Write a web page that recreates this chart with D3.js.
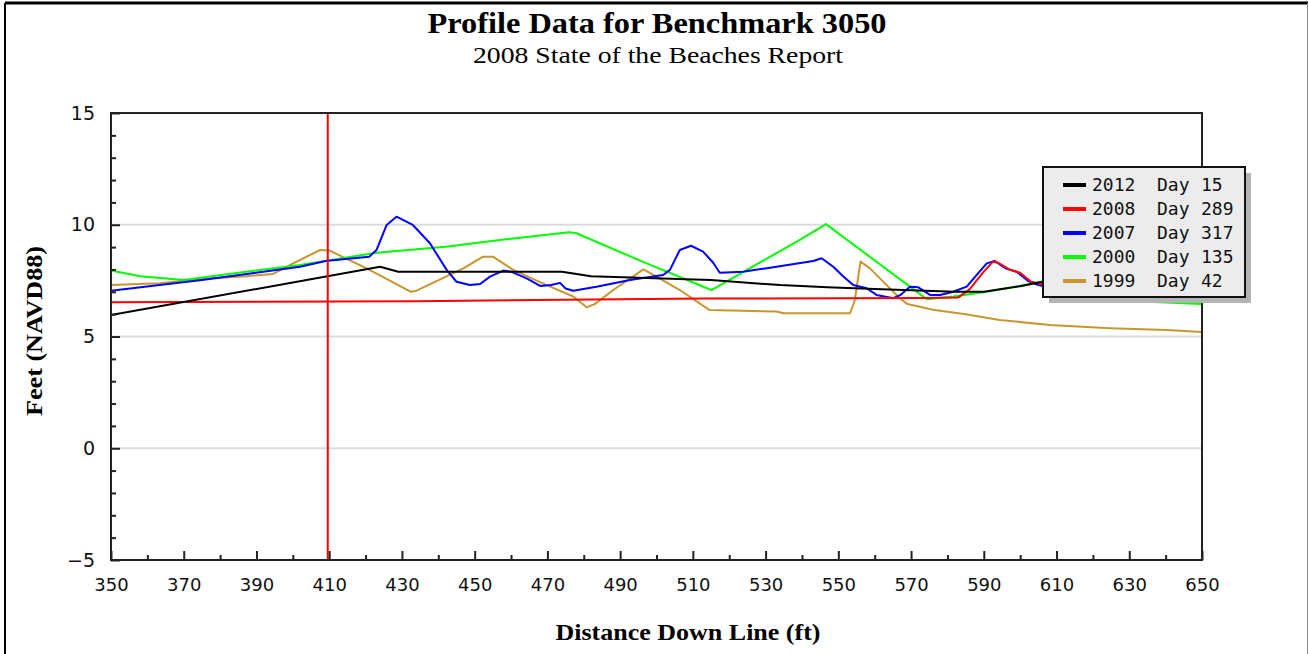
<!DOCTYPE html>
<html>
<head>
<meta charset="utf-8">
<script src="https://cdnjs.cloudflare.com/ajax/libs/d3/7.8.5/d3.min.js"></script>
<style>
  body { margin: 0; background: #fff; }
  svg { display: block; }
</style>
</head>
<body>
<svg id="chart" width="1309" height="654"></svg>
<script>
// profile data, [distance ft, elevation ft]
var s2012 = [[350,5.96],[424,8.12],[429,7.9],[474,7.9],[482,7.7],[515,7.53],[534,7.3],[547,7.2],
  [560,7.13],[582,7.0],[590,7.0],[600,7.25],[606,7.45],[612,7.4]];
var s2008 = [[350,6.53],[434,6.58],[513,6.7],[574,6.72],[583,6.75],[586,7.1],[590,7.9],[592.5,8.35],
  [594,8.3],[597,8.0],[600,7.85],[603,7.45],[607,7.3],[611,6.75],[618,6.62],[622,6.8]];
var s2007 = [[350,7.05],[375,7.53],[402,8.12],[409,8.38],[421,8.57],[423,8.87],[425.8,9.99],[428.5,10.36],
  [433,9.99],[437.7,9.17],[442.3,7.98],[445,7.45],[448.7,7.3],[451.5,7.35],[454.2,7.68],[457.9,7.95],
  [460,7.9],[464.3,7.6],[468,7.26],[471,7.3],[473.5,7.4],[475,7.15],[477.1,7.05],[483.5,7.23],
  [492.7,7.53],[501.8,7.75],[503.7,7.98],[506.4,8.87],[509.5,9.06],[512.8,8.8],[515.6,8.3],[517.4,7.85],
  [523.8,7.9],[533,8.12],[543.1,8.38],[545.4,8.5],[548.6,8.12],[551.3,7.7],[554.1,7.3],[557.8,7.16],
  [560.5,6.86],[565.1,6.71],[567,6.85],[569.7,7.23],[572,7.2],[575.2,6.86],[578,6.86],[581.6,7.0],
  [585.3,7.23],[588,7.75],[590.8,8.27],[593,8.38],[596,8.05],[599,7.9],[602.2,7.48],[605,7.3],
  [608,7.2],[611,6.7],[618,6.6],[622,6.75]];
var s2000 = [[350,7.95],[358,7.7],[370,7.53],[384,7.83],[402,8.2],[423,8.75],[442,9.02],[460.6,9.39],
  [476,9.66],[478,9.62],[497.3,8.27],[515.1,7.08],[539.4,9.32],[546.6,10.03],[574.3,6.67],[581.6,6.79],
  [590.8,7.0],[602.7,7.35],[606,7.45],[615,7.2],[628,6.6],[650,6.45]];
var s1999 = [[350,7.3],[363.5,7.38],[374.5,7.57],[387.3,7.7],[394.6,7.8],[400.1,8.27],[407.5,8.87],
  [410,8.85],[420.3,8.05],[432.5,7.0],[434,7.05],[446.9,8.05],[452.3,8.57],[455,8.57],[460.6,7.98],
  [469.8,7.3],[477.1,6.79],[480.8,6.31],[483,6.45],[488.1,7.08],[496.4,8.0],[500,7.68],[506.4,7.08],
  [514.5,6.19],[533,6.12],[535,6.04],[553.2,6.04],[554.5,6.6],[556.1,8.35],[558.7,8.05],[563.3,7.3],
  [566.9,6.71],[569,6.45],[576,6.2],[585,6.0],[594.4,5.74],[608.2,5.51],[624.7,5.37],[640.3,5.29],[650,5.2]];

var years = ["2012", "2008", "2007", "2000", "1999"];
var days = ["15", "289", "317", "135", "42"];
var series = [s2012, s2008, s2007, s2000, s1999];
var colors = ["#000000", "#ff0000", "#0000ff", "#00ff00", "#c8962e"];
var drawOrder = [4, 3, 2, 1, 0];

var benchmarkX = 409.6;
var xTicks = d3.range(350, 651, 10);
var yTicks = d3.range(-5, 16, 1);
var yGrid = [0, 5, 10];

var svg = d3.select("#chart"),
    width = +svg.attr("width"),
    height = +svg.attr("height");

var x = d3.scaleLinear().domain([350, 650]).range([111, 1202]);
var y = d3.scaleLinear().domain([-5, 15]).range([560, 113]);

// outer frame
svg.append("line").attr("x1", 5).attr("y1", 3).attr("x2", 1308).attr("y2", 3)
  .attr("stroke", "#000").attr("stroke-width", 3);
svg.append("line").attr("x1", 5).attr("y1", 3).attr("x2", 5).attr("y2", 654)
  .attr("stroke", "#000").attr("stroke-width", 2);
svg.append("line").attr("x1", 1307.5).attr("y1", 3).attr("x2", 1307.5).attr("y2", 654)
  .attr("stroke", "#888").attr("stroke-width", 1);

// titles
svg.append("text").attr("x", 657).attr("y", 33).attr("text-anchor", "middle")
  .attr("textLength", 459).attr("lengthAdjust", "spacingAndGlyphs")
  .style("font", "bold 29px 'Liberation Serif', serif").text("Profile Data for Benchmark 3050");
svg.append("text").attr("x", 658).attr("y", 63).attr("text-anchor", "middle")
  .attr("textLength", 370).attr("lengthAdjust", "spacingAndGlyphs")
  .style("font", "24px 'Liberation Serif', serif").text("2008 State of the Beaches Report");

// grid
svg.append("g").selectAll("line").data(yGrid).enter().append("line")
  .attr("x1", x(350)).attr("x2", x(650))
  .attr("y1", function(d) { return y(d); }).attr("y2", function(d) { return y(d); })
  .attr("stroke", "#dcdcdc").attr("stroke-width", 2);

// series
var line = d3.line()
  .x(function(d) { return x(d[0]); })
  .y(function(d) { return y(d[1]); });

svg.append("clipPath").attr("id", "plot-clip").append("rect")
  .attr("x", x(350)).attr("y", y(15)).attr("width", x(650) - x(350)).attr("height", y(-5) - y(15));

svg.append("g").attr("clip-path", "url(#plot-clip)")
  .selectAll("path").data(drawOrder).enter().append("path")
  .attr("d", function(i) { return line(series[i]); })
  .attr("fill", "none")
  .attr("stroke", function(i) { return colors[i]; })
  .attr("stroke-width", 2)
  .attr("stroke-linejoin", "round");

// benchmark marker
svg.append("line")
  .attr("x1", x(benchmarkX)).attr("x2", x(benchmarkX))
  .attr("y1", y(15)).attr("y2", y(-5))
  .attr("stroke", "#ff0000").attr("stroke-width", 2);

// axes
var yAxis = d3.axisLeft(y).tickValues(yTicks)
  .tickSize(0).tickFormat(function(d) { return d % 5 === 0 ? d3.format("d")(d) : ""; });
var gy = svg.append("g").attr("transform", "translate(" + x(350) + ",0)").call(yAxis);
gy.select(".domain").remove();
gy.selectAll("text").attr("x", -16)
  .style("font", "19px 'DejaVu Sans', sans-serif").attr("fill", "#111");
gy.selectAll(".tick").append("line")
  .attr("x1", 0).attr("x2", function(d) { return d % 5 === 0 ? 9 : 5; })
  .attr("stroke", "#222").attr("stroke-width", 2);

var xAxis = d3.axisBottom(x).tickValues(xTicks)
  .tickSize(0).tickFormat(function(d) { return (d - 350) % 20 === 0 ? d : ""; });
var gx = svg.append("g").attr("transform", "translate(0," + y(-5) + ")").call(xAxis);
gx.select(".domain").remove();
gx.selectAll("text").attr("y", 18)
  .style("font", "18px 'DejaVu Sans', sans-serif").attr("fill", "#111");
gx.selectAll(".tick").append("line")
  .attr("y1", 0).attr("y2", function(d) { return (d - 350) % 20 === 0 ? -9 : -5; })
  .attr("stroke", "#222").attr("stroke-width", 2);

// plot frame
svg.append("rect")
  .attr("x", x(350)).attr("y", y(15))
  .attr("width", x(650) - x(350)).attr("height", y(-5) - y(15))
  .attr("fill", "none").attr("stroke", "#222").attr("stroke-width", 2);

// axis titles
svg.append("text").attr("x", 688).attr("y", 640).attr("text-anchor", "middle")
  .attr("textLength", 265).attr("lengthAdjust", "spacingAndGlyphs")
  .style("font", "bold 23px 'Liberation Serif', serif").text("Distance Down Line (ft)");
svg.append("text").attr("transform", "translate(42,331) rotate(-90)").attr("text-anchor", "middle")
  .attr("textLength", 170).attr("lengthAdjust", "spacingAndGlyphs")
  .style("font", "bold 23px 'Liberation Serif', serif").text("Feet (NAVD88)");

// legend
var lg = svg.append("g").attr("transform", "translate(1043,167)");
lg.append("rect").attr("x", 6).attr("y", 6).attr("width", 202).attr("height", 130).attr("fill", "#b4b4b4");
lg.append("rect").attr("x", 0).attr("y", 0).attr("width", 202).attr("height", 130)
  .attr("fill", "#ececec").attr("stroke", "#111").attr("stroke-width", 2);
var rows = lg.selectAll(".row").data(years).enter().append("g")
  .attr("transform", function(d, i) { return "translate(0," + (18 + i * 24) + ")"; });
rows.append("line").attr("x1", 20).attr("x2", 43).attr("y1", 0).attr("y2", 0)
  .attr("stroke", function(d, i) { return colors[i]; }).attr("stroke-width", 4);
rows.append("text").attr("x", 49).attr("y", 6).text(function(d) { return d; });
rows.append("text").attr("x", 114).attr("y", 6).text("Day");
rows.append("text").attr("x", 158).attr("y", 6).text(function(d, i) { return days[i]; });
rows.selectAll("text").style("font", "18px 'DejaVu Sans Mono', monospace").attr("fill", "#111");
</script>
</body>
</html>
